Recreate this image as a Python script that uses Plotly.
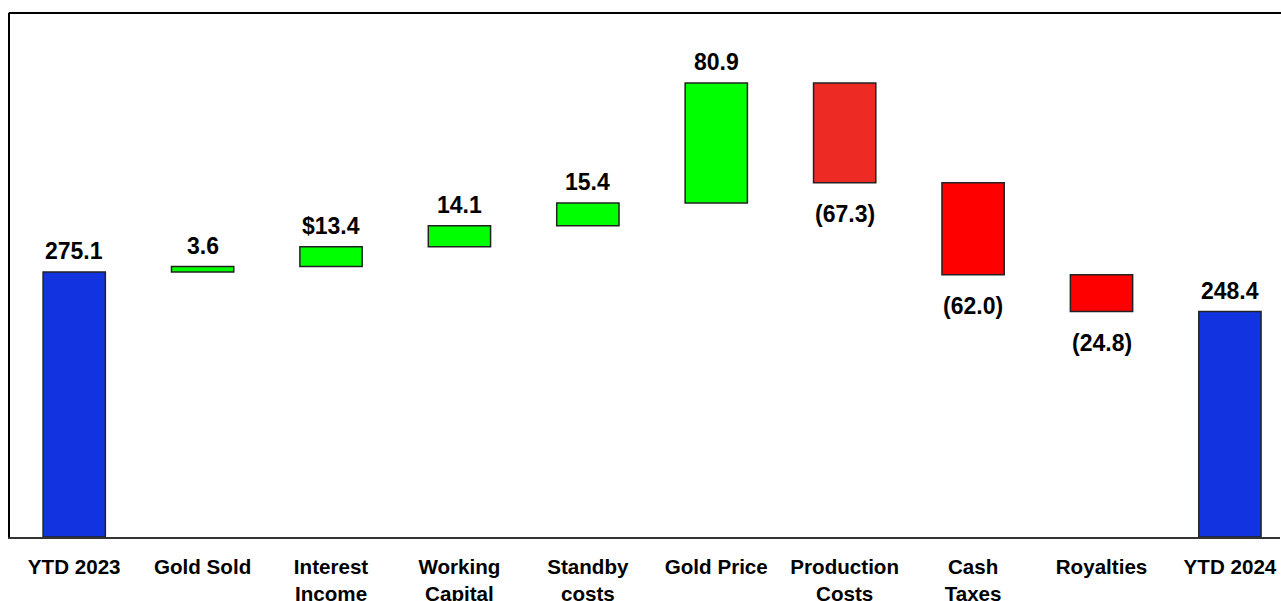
import plotly.graph_objects as go

categories = ["YTD 2023", "Gold Sold", "Interest<br>Income", "Working<br>Capital", "Standby<br>costs",
              "Gold Price", "Production<br>Costs", "Cash<br>Taxes", "Royalties", "YTD 2024"]
values = [275.1, 3.6, 13.4, 14.1, 15.4, 80.9, -67.3, -62.0, -24.8, 248.4]
kinds = ["total", "delta", "delta", "delta", "delta", "delta", "delta", "delta", "delta", "total"]
labels = ["275.1", "3.6", "$13.4", "14.1", "15.4", "80.9", "(67.3)", "(62.0)", "(24.8)", "248.4"]
colors = ["#1234E0", "#00FF00", "#00FF00", "#00FF00", "#00FF00", "#00FF00",
          "#EE2A24", "#FF0000", "#FF0000", "#1234E0"]

Y_MIN = 96.5
bases, heights = [], []
running = 0.0
for v, k in zip(values, kinds):
    if k == "total":
        bases.append(Y_MIN)
        heights.append(v - Y_MIN)
        running = v
    else:
        bases.append(running)
        heights.append(v)
        running += v

fig = go.Figure()
fig.add_trace(go.Bar(
    x=list(range(len(categories))), y=heights, base=bases,
    marker=dict(color=colors, line=dict(color="#222222", width=1.5)),
    width=0.485, hoverinfo="skip",
))

FONT = "Liberation Sans, Arial, sans-serif"
for i, (b, h, lab) in enumerate(zip(bases, heights, labels)):
    top = max(b, b + h)
    bot = min(b, b + h)
    if h >= 0 or kinds[i] == "total":
        fig.add_annotation(x=i, y=top, text="<b>%s</b>" % lab, showarrow=False,
                           yanchor="bottom", yshift=6, font=dict(size=23, color="black", family=FONT))
    else:
        fig.add_annotation(x=i, y=bot, text="<b>%s</b>" % lab, showarrow=False,
                           yanchor="top", yshift=-16, font=dict(size=23, color="black", family=FONT))

fig.add_shape(type="line", xref="paper", yref="paper", x0=-0.001, x1=1.01, y0=1, y1=1,
              line=dict(color="black", width=2))

fig.update_layout(
    width=1281, height=601,
    margin=dict(l=10, r=1, t=13, b=64),
    plot_bgcolor="white", paper_bgcolor="white",
    showlegend=False,
    font=dict(family=FONT, color="black"),
    xaxis=dict(range=[-0.5, 9.39], tickmode="array", tickvals=list(range(len(categories))),
               ticktext=["<b>%s</b>" % c for c in categories],
               tickfont=dict(size=20.6, color="black", family=FONT),
               showline=True, linecolor="#333333", linewidth=2, ticks="",
               showgrid=False, zeroline=False, ticklabelstandoff=10, automargin=False),
    yaxis=dict(range=[Y_MIN, 449.6], showticklabels=False, showgrid=False, zeroline=False,
               showline=True, linecolor="black", linewidth=2, ticks="", automargin=False),
)

fig.write_html("out.html", config={"displayModeBar": False},
               post_script="document.body.style.margin='0';document.body.style.overflow='hidden';")
